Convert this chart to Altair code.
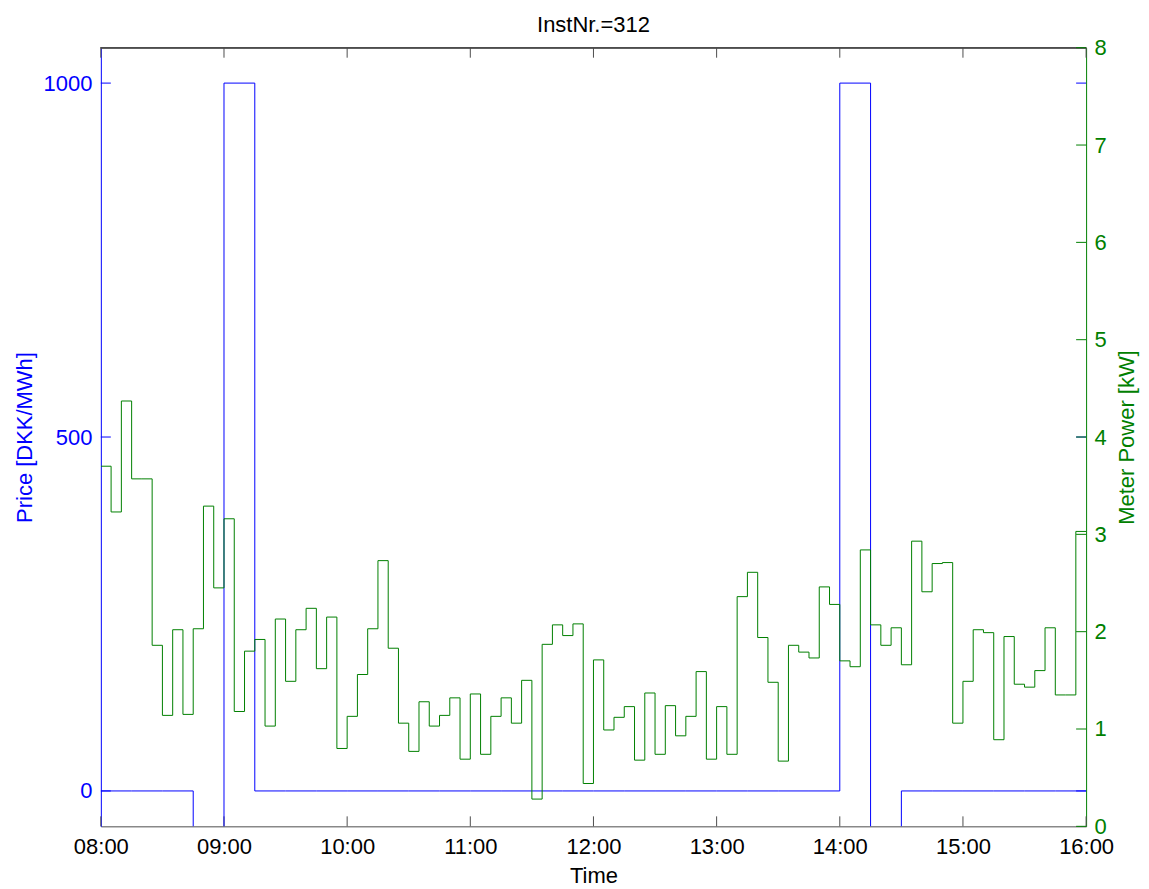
import altair as alt
import pandas as pd

# ---- data ----
power_kw = [3.70, 3.23, 4.37, 3.57, 3.57, 1.86, 1.14, 2.02, 1.15, 2.03, 3.29, 2.45,
            3.16, 1.18, 1.80, 1.92, 1.03, 2.13, 1.49, 2.02, 2.24, 1.62, 2.15, 0.80,
            1.13, 1.56, 2.03, 2.73, 1.83, 1.06, 0.77, 1.28, 1.03, 1.14, 1.32, 0.69,
            1.36, 0.74, 1.13, 1.32, 1.06, 1.50, 0.28, 1.87, 2.07, 1.96, 2.08, 0.44,
            1.71, 0.99, 1.12, 1.23, 0.68, 1.37, 0.74, 1.24, 0.93, 1.13, 1.59, 0.69,
            1.23, 0.74, 2.36, 2.61, 1.94, 1.48, 0.67, 1.86, 1.79, 1.73, 2.46, 2.28,
            1.70, 1.64, 2.84, 2.07, 1.86, 2.04, 1.66, 2.93, 2.41, 2.70, 2.71, 1.06,
            1.49, 2.02, 1.99, 0.89, 1.95, 1.46, 1.43, 1.60, 2.04, 1.35, 1.35, 3.03]

price_dkk = [0, 0, 0, -100, 1000,
             0, 0, 0, 0, 0, 0, 0, 0, 0, 0, 0, 0, 0, 0, 0, 0, 0, 0, 0,
             1000, -100, 0, 0, 0, 0, 0, 0]

hour_ticks = [8, 9, 10, 11, 12, 13, 14, 15, 16]
price_ticks = [0, 500, 1000]
power_ticks = [0, 1, 2, 3, 4, 5, 6, 7, 8]

power_step_h = 5 / 60
price_step_h = 0.25
start_h = 8

power_df = pd.DataFrame({
    "t": [start_h + i * power_step_h for i in range(len(power_kw) + 1)],
    "power": power_kw + [power_kw[-1]],
})
price_df = pd.DataFrame({
    "t": [start_h + i * price_step_h for i in range(len(price_dkk) + 1)],
    "price": price_dkk + [price_dkk[-1]],
})
hour_df = pd.DataFrame({"t": hour_ticks})
price_tick_df = pd.DataFrame({"price": price_ticks})
power_tick_df = pd.DataFrame({"power": power_ticks})

BLUE = "#0000ff"
GREEN = "#008000"
GRAY = "#4d4d4d"
FONT = "Liberation Sans"
W, H = 987, 780
TL = 10

X_SCALE = alt.Scale(domain=[8, 16], nice=False, zero=False)
X_AXIS = alt.Axis(values=hour_ticks,
                  labelExpr="(datum.value < 10 ? '0' : '') + datum.value + ':00'",
                  ticks=False, grid=False, domainColor=GRAY, labelColor="#000000",
                  labelFlush=False, labelPadding=10, title="Time", titleColor="#000000",
                  titlePadding=8)

P_SCALE = alt.Scale(domain=[-50, 1050], nice=False, zero=False)
P_AXIS = alt.Axis(values=price_ticks, format="d", ticks=False, grid=False,
                  domainColor=BLUE, labelColor=BLUE, labelPadding=9,
                  title="Price [DKK/MWh]", titleColor=BLUE, titlePadding=7)

K_SCALE = alt.Scale(domain=[0, 8], nice=False, zero=False)
K_AXIS = alt.Axis(values=power_ticks, format="d", orient="right", ticks=False,
                  grid=False, domainColor=GREEN, labelColor=GREEN, labelPadding=8,
                  title="Meter Power [kW]", titleColor=GREEN, titlePadding=10,
                  titleAngle=270, titleBaseline="top")


def xenc():
    return alt.X("t:Q", scale=X_SCALE, axis=X_AXIS)


def penc():
    return alt.Y("price:Q", scale=P_SCALE, axis=P_AXIS)


def kenc():
    return alt.Y("power:Q", scale=K_SCALE, axis=K_AXIS)


price_line = alt.Chart(price_df).mark_line(
    interpolate="step-after", color=BLUE, strokeWidth=1, clip=True
).encode(x=xenc(), y=penc())
price_tl = alt.Chart(price_tick_df).mark_rule(color=BLUE, strokeWidth=1).encode(
    y=penc(), x=alt.value(0), x2=alt.value(TL))
price_tr = alt.Chart(price_tick_df).mark_rule(color=BLUE, strokeWidth=1).encode(
    y=penc(), x=alt.value(W - TL), x2=alt.value(W))
price_group = alt.layer(price_line, price_tl, price_tr)

power_line = alt.Chart(power_df).mark_line(
    interpolate="step-after", color=GREEN, strokeWidth=1, clip=True
).encode(x=xenc(), y=kenc())
power_tr = alt.Chart(power_tick_df).mark_rule(color=GREEN, strokeWidth=1).encode(
    y=kenc(), x=alt.value(W - TL), x2=alt.value(W))
power_group = alt.layer(power_line, power_tr)

xt_bottom = alt.Chart(hour_df).mark_rule(color=GRAY, strokeWidth=1).encode(
    x=xenc(), y=alt.value(H), y2=alt.value(H - TL))
xt_top = alt.Chart(hour_df).mark_rule(color=GRAY, strokeWidth=1).encode(
    x=xenc(), y=alt.value(0), y2=alt.value(TL))
top_border = alt.Chart(hour_df).mark_rule(color=GRAY, strokeWidth=1).encode(
    x=alt.value(0), x2=alt.value(W), y=alt.value(0))

chart = alt.layer(
    xt_bottom, xt_top, top_border, price_group, power_group
).resolve_scale(y="independent").properties(
    width=W, height=H,
    autosize=alt.AutoSizeParams(type="none"),
    padding={"left": 93, "top": 39, "right": 55, "bottom": 61},
    title=alt.TitleParams("InstNr.=312", fontSize=22, font=FONT, fontWeight="normal",
                          color="#000000", offset=0, anchor="middle"),
    background="white",
).configure_view(stroke=None).configure_axis(
    labelFont=FONT, titleFont=FONT, labelFontSize=22, titleFontSize=22,
    titleFontWeight="normal"
)

chart.save("out.html", embed_options={"renderer": "svg", "actions": False})
